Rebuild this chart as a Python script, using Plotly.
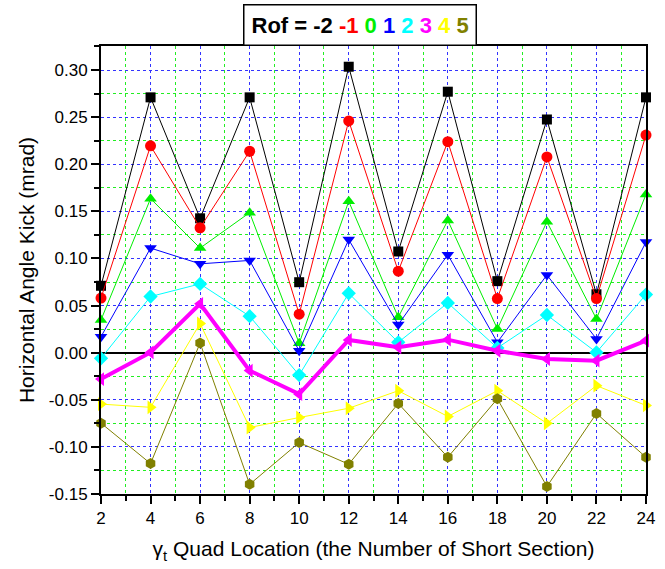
import plotly.graph_objects as go

x_loc = [2, 4, 6, 8, 10, 12, 14, 16, 18, 20, 22, 24]
rof_labels = ["-2", "-1", "0", "1", "2", "3", "4", "5"]

kick_m2 = [0.071, 0.271, 0.1426, 0.271, 0.0748, 0.3035, 0.1074, 0.277, 0.0759, 0.2475, 0.062, 0.271]
kick_m1 = [0.058, 0.2195, 0.1326, 0.2138, 0.0408, 0.246, 0.0865, 0.224, 0.0574, 0.2078, 0.0574, 0.231]
kick_0 = [0.0348, 0.1635, 0.111, 0.1486, 0.0099, 0.1606, 0.0376, 0.1404, 0.0252, 0.139, 0.0358, 0.168]
kick_1 = [0.017, 0.111, 0.0943, 0.0979, 0.002, 0.120, 0.0298, 0.104, 0.011, 0.0825, 0.0146, 0.1174]
kick_2 = [-0.006, 0.0596, 0.073, 0.0387, -0.0238, 0.063, 0.011, 0.0528, 0.005, 0.040, 0.0003, 0.0617]
kick_3 = [-0.028, 0.0003, 0.0518, -0.019, -0.044, 0.0135, 0.0057, 0.0138, 0.002, -0.0067, -0.0085, 0.0128]
kick_4 = [-0.0546, -0.058, 0.031, -0.0794, -0.0688, -0.059, -0.0404, -0.0677, -0.0404, -0.075, -0.035, -0.056]
kick_5 = [-0.0748, -0.1177, 0.0103, -0.1397, -0.0954, -0.1184, -0.0539, -0.111, -0.049, -0.142, -0.0645, -0.111]

y_ticks = [-0.15, -0.10, -0.05, 0.0, 0.05, 0.10, 0.15, 0.20, 0.25, 0.30]
y_tick_text = ["-0.15", "-0.10", "-0.05", "0.00", "0.05", "0.10", "0.15", "0.20", "0.25", "0.30"]

series = [kick_m2, kick_m1, kick_0, kick_1, kick_2, kick_3, kick_4, kick_5]
colors = ["#000000", "#FF0000", "#00EE00", "#0000FF", "#00FFFF", "#FF00FF", "#FFFF00", "#808000"]
symbols = ["square", "circle", "triangle-up", "triangle-down", "diamond", "triangle-left", "triangle-right", "hexagon"]
widths = [1, 1, 1, 1, 1, 4, 1, 1]
sizes = [10, 11, 11, 11, 11, 12, 12, 11]

font_family = "Arial, Liberation Sans, sans-serif"

fig = go.Figure()
for lab, ys, c, s, w, sz in zip(rof_labels, series, colors, symbols, widths, sizes):
    fig.add_trace(go.Scatter(
        x=x_loc, y=ys, mode="lines+markers", name="Rof = " + lab,
        line=dict(color=c, width=w),
        marker=dict(symbol=s, size=sz, color=c, line=dict(width=0)),
        cliponaxis=False,
    ))

legend_txt = "Rof = -2 " + " ".join(
    f"<span style='color:{c}'>{l}</span>" for l, c in zip(rof_labels[1:], colors[1:]))

fig.add_annotation(
    x=0.476, y=1.047, xref="paper", yref="paper", xanchor="center", yanchor="middle",
    text="<b>" + legend_txt + "</b>", showarrow=False,
    font=dict(family=font_family, size=22, color="black"),
    bordercolor="black", borderwidth=1.5, bgcolor="white", borderpad=7,
)

fig.update_layout(
    width=665, height=569,
    margin=dict(l=101, r=10, t=46, b=75),
    paper_bgcolor="white", plot_bgcolor="white",
    showlegend=False,
    font=dict(family=font_family, size=17, color="black"),
    xaxis=dict(
        range=[2, 24], tickmode="array", tickvals=x_loc,
        ticks="outside", ticklen=8, tickwidth=1.5, tickcolor="black",
        showline=True, linecolor="black", linewidth=2, mirror=True,
        showgrid=True, gridcolor="#3333FF", griddash="dot", gridwidth=1,
        zeroline=False,
        minor=dict(dtick=1, tick0=1, ticks="outside", ticklen=5, tickcolor="black",
                   showgrid=True, gridcolor="#22EE22", griddash="dot", gridwidth=1),
        title=dict(text="γ<sub>t</sub> Quad Location (the Number of Short Section)",
                   font=dict(size=21), standoff=14),
        tickfont=dict(size=17),
    ),
    yaxis=dict(
        range=[-0.15, 0.3255], tickmode="array",
        tickvals=y_ticks, ticktext=y_tick_text,
        ticks="outside", ticklen=8, tickwidth=1.5, tickcolor="black",
        showline=True, linecolor="black", linewidth=2, mirror=True,
        showgrid=True, gridcolor="#3333FF", griddash="dot", gridwidth=1,
        zeroline=True, zerolinecolor="black", zerolinewidth=1.5,
        minor=dict(dtick=0.025, tick0=0.025, ticks="outside", ticklen=5, tickcolor="black",
                   showgrid=True, gridcolor="#22EE22", griddash="dot", gridwidth=1),
        title=dict(text="Horizontal Angle Kick (mrad)", font=dict(size=21), standoff=8),
        tickfont=dict(size=17),
    ),
)

fig.write_html("out.html", config={"displayModeBar": False},
               post_script="document.body.style.margin='0';document.body.style.overflow='hidden';")
